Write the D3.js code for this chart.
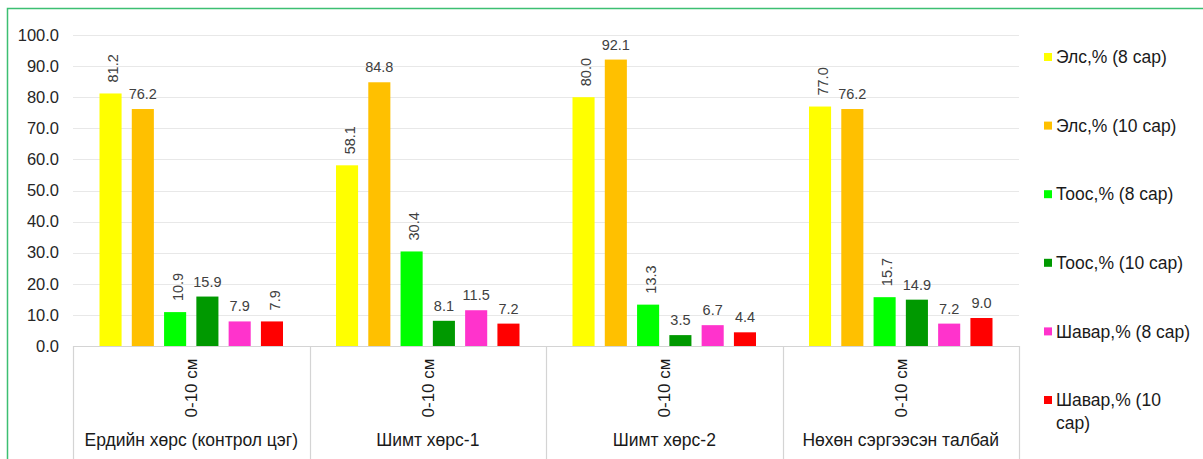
<!DOCTYPE html>
<html>
<head>
<meta charset="utf-8">
<script src="https://cdn.jsdelivr.net/npm/d3@7"></script>
<style>
  html, body { margin: 0; padding: 0; background: #fff; }
  svg { display: block; font-family: "Liberation Sans", Arial, sans-serif; }
</style>
</head>
<body>
<svg id="chart" width="1203" height="459"></svg>
<script>
// Soil texture fractions by site, 0-10 cm layer
const categories = ["Ердийн хөрс (контрол цэг)", "Шимт хөрс-1", "Шимт хөрс-2", "Нөхөн сэргээсэн талбай"];
const depthLabel = "0-10 см";
const seriesNames = ["Элс,% (8 сар)", "Элс,% (10 сар)", "Тоос,% (8 сар)", "Тоос,% (10 сар)", "Шавар,% (8 сар)", "Шавар,% (10 сар)"];
const sand8 = [81.2, 58.1, 80.0, 77.0];
const sand10 = [76.2, 84.8, 92.1, 76.2];
const silt8 = [10.9, 30.4, 13.3, 15.7];
const silt10 = [15.9, 8.1, 3.5, 14.9];
const clay8 = [7.9, 11.5, 6.7, 7.2];
const clay10 = [7.9, 7.2, 4.4, 9.0];
const yTicks = [0, 10, 20, 30, 40, 50, 60, 70, 80, 90, 100];

const seriesValues = [sand8, sand10, silt8, silt10, clay8, clay10];
const colors = ["#FFFF00", "#FFC000", "#00FF00", "#009900", "#FF33CC", "#FF0000"];
// labels printed vertically: [series index, category index]
const verticalLabels = [[0,0],[0,1],[0,2],[0,3],[2,0],[2,1],[2,2],[2,3],[5,0]];

const svg = d3.select("#chart");
const W = 1203, H = 459;
const plot = { left: 73, right: 1019, top: 35, bottom: 346 };

// outer frame
svg.append("path")
  .attr("d", `M7.5,${H} V8.5 H${W}`)
  .attr("fill", "none").attr("stroke", "#3cbf72").attr("stroke-width", 1.5);

const x0 = d3.scaleBand().domain(d3.range(categories.length)).range([plot.left, plot.right]).padding(0);
const x1 = d3.scaleBand().domain(d3.range(seriesNames.length))
  .range([26.5, x0.bandwidth() - 26.5]).paddingInner(0.316).paddingOuter(0);
const y = d3.scaleLinear().domain([0, 100]).range([plot.bottom, plot.top]);

// gridlines
svg.append("g").selectAll("line").data(yTicks.filter(d => d > 0)).join("line")
  .attr("x1", plot.left).attr("x2", plot.right)
  .attr("y1", d => Math.round(y(d)) + 0.5).attr("y2", d => Math.round(y(d)) + 0.5)
  .attr("stroke", "#e8e8e8").attr("stroke-width", 1.2);

// y axis labels
const yAxis = svg.append("g").attr("transform", `translate(${plot.left},0)`)
  .call(d3.axisLeft(y).tickValues(yTicks).tickFormat(d3.format(".1f")).tickSize(0).tickPadding(14));
yAxis.select(".domain").remove();
yAxis.selectAll("text").attr("font-size", "16.5px").attr("fill", "#262626")
  .attr("font-family", "Liberation Sans, Arial, sans-serif");

// bars
const bars = [];
seriesValues.forEach((vals, s) => vals.forEach((v, c) => bars.push({ s, c, v })));
svg.append("g").selectAll("rect").data(bars).join("rect")
  .attr("x", d => x0(d.c) + x1(d.s))
  .attr("width", x1.bandwidth())
  .attr("y", d => y(d.v))
  .attr("height", d => y(0) - y(d.v))
  .attr("fill", d => colors[d.s]);

// data labels
const isVertical = d => verticalLabels.some(([s, c]) => s === d.s && c === d.c);
const lbl = svg.append("g").attr("font-size", "14.5px").attr("fill", "#404040");
lbl.selectAll("text").data(bars).join("text")
  .attr("transform", d => {
    const cx = x0(d.c) + x1(d.s) + x1.bandwidth() / 2;
    return isVertical(d)
      ? `translate(${cx + 2.8},${y(d.v) - 11}) rotate(-90)`
      : `translate(${cx},${y(d.v) - 10})`;
  })
  .attr("text-anchor", d => isVertical(d) ? "start" : "middle")
  .attr("dy", d => isVertical(d) ? "0.35em" : 0)
  .text(d => d.v.toFixed(1));

// category axis
const cat = svg.append("g");
cat.append("line").attr("x1", plot.left).attr("x2", plot.right)
  .attr("y1", plot.bottom + 0.5).attr("y2", plot.bottom + 0.5)
  .attr("stroke", "#d4d4d4").attr("stroke-width", 1.2);
const seps = d3.range(categories.length + 1).map(i => i < categories.length ? x0(i) : plot.right);
cat.selectAll("line.sep").data(seps).join("line").attr("class", "sep")
  .attr("x1", d => Math.round(d) + 0.5).attr("x2", d => Math.round(d) + 0.5)
  .attr("y1", plot.bottom).attr("y2", H)
  .attr("stroke", "#d4d4d4").attr("stroke-width", 1.2);

cat.selectAll("text.depth").data(categories).join("text").attr("class", "depth")
  .attr("transform", (d, i) => `translate(${x0(i) + x0.bandwidth() / 2},388) rotate(-90)`)
  .attr("text-anchor", "middle").attr("dy", "0.35em")
  .attr("font-size", "17px").attr("fill", "#1a1a1a")
  .text(depthLabel);

cat.selectAll("text.name").data(categories).join("text").attr("class", "name")
  .attr("x", (d, i) => x0(i) + x0.bandwidth() / 2)
  .attr("y", 446)
  .attr("text-anchor", "middle")
  .attr("font-size", "17.5px").attr("fill", "#1a1a1a")
  .text(d => d);

// legend
const legend = svg.append("g").attr("transform", "translate(1044,0)");
const legendY = d3.scaleLinear().domain([0, seriesNames.length - 1]).range([57, 400]);
const maxTextW = W - 1056 - 4;
seriesNames.forEach((name, i) => {
  const g = legend.append("g").attr("transform", `translate(0,${legendY(i)})`);
  g.append("rect").attr("x", 0).attr("y", -4).attr("width", 8).attr("height", 8).attr("fill", colors[i]);
  const t = g.append("text").attr("x", 12).attr("y", 0).attr("dy", "0.35em")
    .attr("font-size", "17.5px").attr("fill", "#1a1a1a");
  // wrap onto a second line when the label is too wide
  const words = name.split(" ");
  let line = [], tsp = t.append("tspan").attr("x", 12);
  words.forEach(w => {
    line.push(w);
    tsp.text(line.join(" "));
    if (tsp.node().getComputedTextLength() > maxTextW && line.length > 1) {
      line.pop();
      tsp.text(line.join(" "));
      line = [w];
      tsp = t.append("tspan").attr("x", 12).attr("dy", "1.3em").text(w);
    }
  });
});
</script>
</body>
</html>
